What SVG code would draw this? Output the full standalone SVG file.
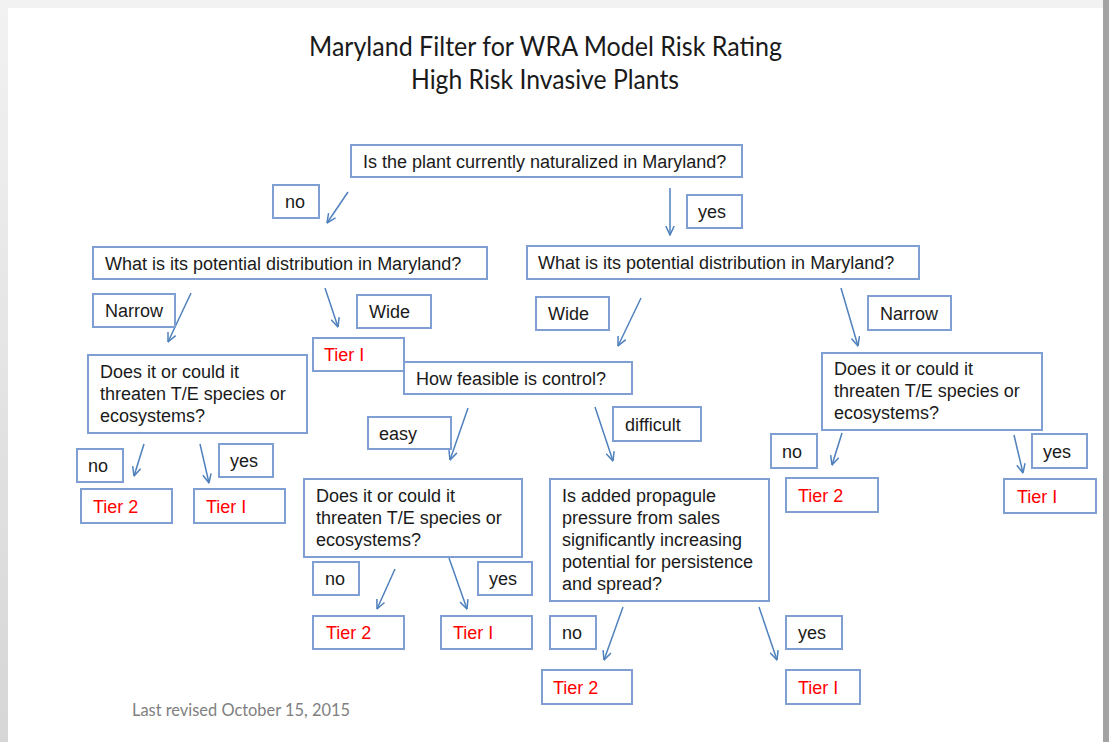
<svg xmlns="http://www.w3.org/2000/svg" width="1109" height="742" viewBox="0 0 1109 742">
<defs>
<linearGradient id="shadeTop" x1="0" y1="0" x2="0" y2="1"><stop offset="0" stop-color="#f2f2f2"/><stop offset="1" stop-color="#d6d6d6"/></linearGradient>
<marker id="ah" viewBox="0 0 10 10" refX="9.5" refY="5" markerWidth="10" markerHeight="10" markerUnits="userSpaceOnUse" orient="auto">
<path d="M0.5,0.8 L9.5,5 L0.5,9.2" fill="none" stroke="#4f81bd" stroke-width="1.5"/>
</marker>
</defs>
<style>
.b{fill:#ffffff;stroke:#7f9fd2;stroke-width:2}
.t{font-family:"Liberation Sans",Arial,sans-serif;font-size:18px;fill:#1a1a1a}
.r{font-family:"Liberation Sans",Arial,sans-serif;font-size:18px;fill:#ff0000}
.ttl{font-family:Lato,"Open Sans",sans-serif;font-size:26px;fill:#1a1a1a}
.ft{font-family:Lato,"Open Sans",sans-serif;font-size:17px;fill:#7f7f7f}
.c line{stroke:#4f81bd;stroke-width:1.5;marker-end:url(#ah)}
</style>
<rect x="0" y="0" width="1109" height="742" fill="url(#shadeTop)"/>
<rect x="1103" y="0" width="6" height="742" fill="#a3a3a3"/>
<rect x="8" y="8" width="1095" height="734" fill="#ffffff"/>

<g id="title">
<text class="ttl" x="309" y="56" textLength="473" lengthAdjust="spacingAndGlyphs">Maryland Filter for WRA Model Risk Rating</text>
<text class="ttl" x="411" y="89" textLength="268" lengthAdjust="spacingAndGlyphs">High Risk Invasive Plants</text>
</g>
<g id="footer"><text class="ft" x="132" y="716" textLength="218" lengthAdjust="spacingAndGlyphs">Last revised October 15, 2015</text></g>

<g class="c" id="connectors">
<line x1="348" y1="192" x2="327" y2="223"/>
<line x1="670" y1="188" x2="670" y2="235"/>
<line x1="191" y1="293" x2="168" y2="342"/>
<line x1="325" y1="288" x2="338" y2="327"/>
<line x1="641" y1="298" x2="618" y2="346"/>
<line x1="841" y1="288" x2="858" y2="346"/>
<line x1="468" y1="408" x2="450" y2="460"/>
<line x1="595" y1="407" x2="613" y2="461"/>
<line x1="144" y1="444" x2="134" y2="476"/>
<line x1="200" y1="444" x2="209" y2="483"/>
<line x1="395" y1="569" x2="377" y2="609"/>
<line x1="449" y1="558" x2="467" y2="609"/>
<line x1="842" y1="433" x2="832" y2="465"/>
<line x1="1014" y1="435" x2="1023" y2="473"/>
<line x1="623" y1="607" x2="604" y2="660"/>
<line x1="759" y1="607" x2="777" y2="660"/>
</g>

<g id="q-naturalized"><rect class="b" x="351" y="145" width="391" height="32"/><text class="t" x="363" y="167.5">Is the plant currently naturalized in Maryland?</text></g>
<g id="lbl-no-1"><rect class="b" x="273" y="185" width="46" height="33"/><text class="t" x="285" y="208">no</text></g>
<g id="lbl-yes-1"><rect class="b" x="687" y="195" width="55" height="33"/><text class="t" x="698" y="218">yes</text></g>

<g id="q-dist-left"><rect class="b" x="93" y="247" width="394" height="32"/><text class="t" x="105" y="269.5">What is its potential distribution in Maryland?</text></g>
<g id="q-dist-right"><rect class="b" x="527" y="246" width="392" height="33"/><text class="t" x="538" y="269">What is its potential distribution in Maryland?</text></g>

<g id="lbl-narrow-left"><rect class="b" x="93" y="294" width="82" height="33"/><text class="t" x="105" y="317">Narrow</text></g>
<g id="lbl-wide-left"><rect class="b" x="357" y="295" width="74" height="33"/><text class="t" x="369" y="318">Wide</text></g>
<g id="tier1-a"><rect class="b" x="313" y="338" width="91" height="33"/><text class="r" x="324" y="361">Tier I</text></g>
<g id="q-feasible"><rect class="b" x="404" y="362" width="228" height="32"/><text class="t" x="416" y="384.5">How feasible is control?</text></g>

<g id="q-threat-left"><rect class="b" x="88" y="355" width="219" height="78"/>
<text class="t" x="100" y="378">Does it or could it</text><text class="t" x="100" y="400">threaten T/E species or</text><text class="t" x="100" y="422">ecosystems?</text></g>

<g id="lbl-wide-right"><rect class="b" x="536" y="297" width="73" height="33"/><text class="t" x="548" y="320">Wide</text></g>
<g id="lbl-narrow-right"><rect class="b" x="868" y="296" width="83" height="34"/><text class="t" x="880" y="319.5">Narrow</text></g>

<g id="q-threat-right"><rect class="b" x="822" y="353" width="220" height="77"/>
<text class="t" x="834" y="375">Does it or could it</text><text class="t" x="834" y="397">threaten T/E species or</text><text class="t" x="834" y="419">ecosystems?</text></g>

<g id="lbl-easy"><rect class="b" x="368" y="417" width="83" height="32"/><text class="t" x="379" y="439.5">easy</text></g>
<g id="lbl-difficult"><rect class="b" x="613" y="407" width="88" height="34"/><text class="t" x="625" y="430.5">difficult</text></g>

<g id="q-threat-mid"><rect class="b" x="304" y="479" width="218" height="78"/>
<text class="t" x="316" y="502">Does it or could it</text><text class="t" x="316" y="524">threaten T/E species or</text><text class="t" x="316" y="546">ecosystems?</text></g>

<g id="q-propagule"><rect class="b" x="550" y="479" width="219" height="122"/>
<text class="t" x="562" y="502">Is added propagule</text><text class="t" x="562" y="524">pressure from sales</text><text class="t" x="562" y="546">significantly increasing</text><text class="t" x="562" y="568">potential for persistence</text><text class="t" x="562" y="590">and spread?</text></g>

<g id="lbl-no-left"><rect class="b" x="77" y="449" width="46" height="33"/><text class="t" x="88" y="472">no</text></g>
<g id="lbl-yes-left"><rect class="b" x="219" y="444" width="54" height="33"/><text class="t" x="230" y="467">yes</text></g>
<g id="tier2-left"><rect class="b" x="81" y="489" width="91" height="34"/><text class="r" x="93" y="512.5">Tier 2</text></g>
<g id="tier1-left"><rect class="b" x="194" y="489" width="91" height="34"/><text class="r" x="206" y="512.5">Tier I</text></g>

<g id="lbl-no-mid"><rect class="b" x="313" y="562" width="46" height="33"/><text class="t" x="325" y="585">no</text></g>
<g id="lbl-yes-mid"><rect class="b" x="478" y="562" width="54" height="33"/><text class="t" x="489" y="585">yes</text></g>
<g id="tier2-mid"><rect class="b" x="313" y="616" width="91" height="33"/><text class="r" x="326" y="639">Tier 2</text></g>
<g id="tier1-mid"><rect class="b" x="441" y="616" width="91" height="33"/><text class="r" x="453" y="639">Tier I</text></g>

<g id="lbl-no-right"><rect class="b" x="771" y="434" width="46" height="34"/><text class="t" x="782" y="457.5">no</text></g>
<g id="lbl-yes-right"><rect class="b" x="1032" y="434" width="55" height="34"/><text class="t" x="1043" y="457.5">yes</text></g>
<g id="tier2-right"><rect class="b" x="786" y="478" width="92" height="34"/><text class="r" x="798" y="501.5">Tier 2</text></g>
<g id="tier1-right"><rect class="b" x="1004" y="479" width="92" height="34"/><text class="r" x="1017" y="502.5">Tier I</text></g>

<g id="lbl-no-bottom"><rect class="b" x="550" y="616" width="46" height="33"/><text class="t" x="562" y="639">no</text></g>
<g id="lbl-yes-bottom"><rect class="b" x="786" y="616" width="56" height="33"/><text class="t" x="798" y="639">yes</text></g>
<g id="tier2-bottom"><rect class="b" x="542" y="670" width="90" height="34"/><text class="r" x="553" y="693.5">Tier 2</text></g>
<g id="tier1-bottom"><rect class="b" x="786" y="670" width="74" height="34"/><text class="r" x="798" y="693.5">Tier I</text></g>
</svg>
